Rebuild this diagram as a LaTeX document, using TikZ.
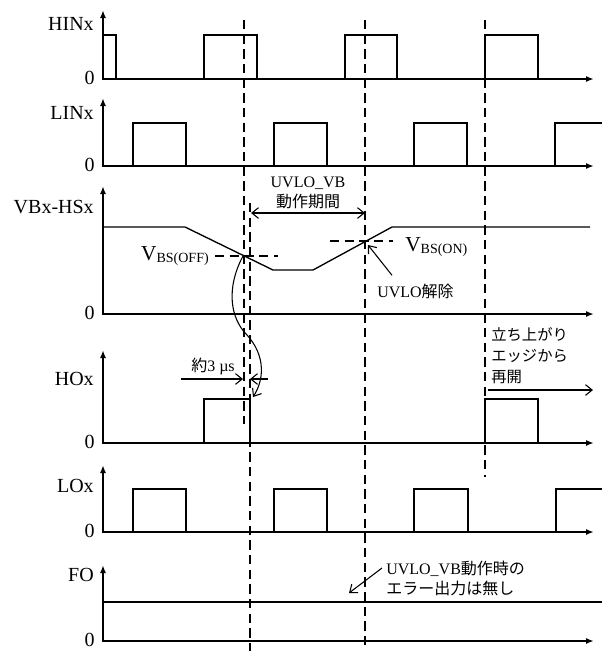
\documentclass[tikz,border=0pt]{standalone}
\usepackage{fontspec}
\setmainfont{Liberation Serif}
\newfontfamily\jp{Noto Sans CJK JP}
\usetikzlibrary{arrows.meta}

\tikzset{
  axis/.style={line width=1.5pt, {Latex[length=6pt,width=4.5pt]}-{Latex[length=6pt,width=4.5pt]}},
  sig/.style={line width=1pt},
  guide/.style={line width=0.9pt, dash pattern=on 7pt off 4pt},
  note/.style={line width=0.8pt},
  lab/.style={font=\fontsize{15}{18}\selectfont, inner sep=0pt},
  txt/.style={font=\fontsize{12}{15}\selectfont, inner sep=0pt},
  >={Straight Barb[length=5pt,width=8pt]}
}

\begin{document}
\begin{tikzpicture}[x=0.75pt, y=-0.75pt]
  \useasboundingbox (0,0) rectangle (602,651);

  % Axes
  \foreach \base/\top/\name/\ly [count=\i] in {79/10/HINx/30, 166/98/LINx/119, 314/186/VBx-HSx/213, 443/350/HOx/385, 532/465/LOx/492, 641/565/FO/581} {
    \draw[axis] (103,\top) -- (103,\base) -- (594,\base);
    \node[lab, anchor=base east] (zero\i) at (95,{\base+5}) {0};
    \node[lab, anchor=base east] (name\i) at (94,\ly) {\name};
  }

  % HINx
  \draw[sig] (103,35) -- (116,35) -- (116,79);
  \foreach \a/\b in {204/257, 345/397, 485/538}
    \draw[sig] (\a,79) |- (\b,35) -- (\b,79);

  % LINx
  \foreach \a/\b in {133/186, 274/327, 414/467}
    \draw[sig] (\a,166) |- (\b,123) -- (\b,166);
  \draw[sig] (555,166) |- (602,123);

  % VBx-HSx
  \draw[sig] (103,227) -- (185,227) -- (273,270) -- (313,270) -- (392,227) -- (590,227);

  % HOx
  \foreach \a/\b in {204/250, 485/538}
    \draw[sig] (\a,443) |- (\b,399) -- (\b,443);

  % LOx
  \foreach \a/\b in {133/186, 274/327, 414/468}
    \draw[sig] (\a,532) |- (\b,489) -- (\b,532);
  \draw[sig] (556,532) |- (602,489);

  % FO
  \draw[sig] (103,602) -- (602,602);

  % Dashed guides
  \draw[guide] (244,20) -- (244,424);
  \draw[guide] (250,203) -- (250,651);
  \draw[guide] (365,20) -- (365,651);
  \draw[guide] (485,20) -- (485,477);
  \draw[guide] (215,256) -- (278,256);
  \draw[guide] (330,241) -- (393,241);

  % Thresholds
  \coordinate (off) at (243,256);
  \coordinate (on) at (365,241);
  \node[txt, anchor=base east] (vbsoff) at (209,260)
    {{\fontsize{16}{18}\selectfont V}\raisebox{-2pt}{\fontsize{10.5}{12}\selectfont BS(OFF)}};
  \node[txt, anchor=base west] (vbson) at (405,251)
    {{\fontsize{16}{18}\selectfont V}\raisebox{-2pt}{\fontsize{10.5}{12}\selectfont BS(ON)}};

  % UVLO period
  \node[txt, align=center] (period) at (308,193) {UVLO\_VB\\{\jp 動作期間}};
  \coordinate (pstart) at (251,213);
  \coordinate (pend) at (365,213);
  \draw[note, <->] (pstart) -- (pend);

  % UVLO release
  \node[txt, anchor=base west] (release) at (377,297) {UVLO{\jp 解除}};
  \draw[note, ->] ([shift={(15,-8)}]release.north west) -- ([shift={(3,4)}]on);

  % Curved arrow to HOx falling edge
  \coordinate (hofall) at (253,397);
  \draw[note, ->] (off) .. controls (226,288) and (230,318) .. (247,335)
    .. controls (266,356) and (264,380) .. (hofall);

  % Delay
  \node[txt, anchor=base] (delay) at (213,371) {{\jp 約}3 µs};
  \coordinate (dl) at (181,379);
  \coordinate (dlend) at (243,379);
  \coordinate (dr) at (268,379);
  \coordinate (drend) at (250,379);
  \draw[note, ->] (dl) -- (dlend);
  \draw[note, ->] (dr) -- (drend);

  % Restart
  \node[txt, align=left, anchor=north west, font=\jp\fontsize{11.5}{15.75}\selectfont] (restart) at (491,327)
    {立ち上がり\\エッジから\\再開};
  \coordinate (rs) at (488,390);
  \coordinate (rsend) at (593,390);
  \draw[note, ->] (rs) -- (rsend);

  % No FO output
  \node[txt, align=left, anchor=north west] (noerr) at (386,561)
    {UVLO\_VB{\jp 動作時の}\\{\jp エラー出力は無し}};
  \coordinate (fo) at (349,593);
  \draw[note, ->] ([shift={(-4,7)}]noerr.north west) -- (fo);
\end{tikzpicture}
\end{document}
